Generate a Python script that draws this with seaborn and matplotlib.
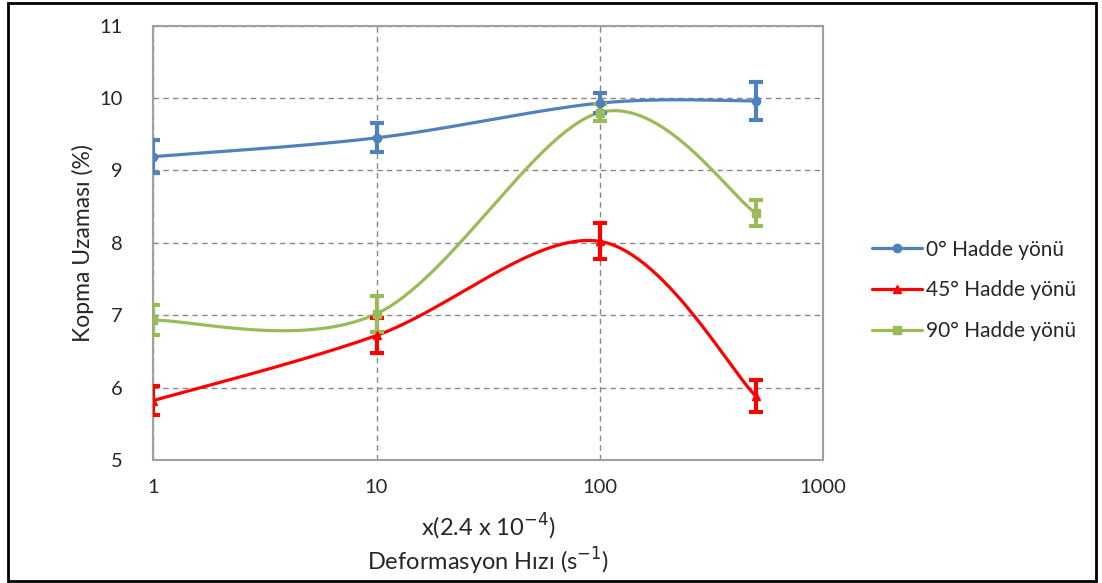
import numpy as np
import pandas as pd
import matplotlib
matplotlib.use("Agg")
import matplotlib.pyplot as plt
import seaborn as sns
from matplotlib.lines import Line2D
from matplotlib.patches import Rectangle

# Veriler
hiz = [1, 10, 100, 500]
seriler = ["0° Hadde yönü", "45° Hadde yönü", "90° Hadde yönü"]
uzama_0 = [9.19, 9.45, 9.93, 9.96]
hata_0 = [0.23, 0.20, 0.14, 0.26]
uzama_45 = [5.82, 6.72, 8.02, 5.88]
hata_45 = [0.20, 0.24, 0.25, 0.22]
uzama_90 = [6.93, 7.02, 9.80, 8.41]
hata_90 = [0.21, 0.25, 0.12, 0.18]

renkler = ["#4F81BD", "#FF0000", "#9BBB59"]
isaretler = ["o", "^", "s"]

df = pd.DataFrame({
    "hiz": hiz * 3,
    "uzama": uzama_0 + uzama_45 + uzama_90,
    "hata": hata_0 + hata_45 + hata_90,
    "seri": [s for s in seriler for _ in hiz],
})


def excel_smooth(x, y, n=60):
    # Excel "düzgünleştirilmiş çizgi" benzeri Catmull-Rom eğrisi (log x uzayında)
    lx = np.log10(np.asarray(x, float))
    y = np.asarray(y, float)
    p = np.column_stack([lx, y])
    p = np.vstack([p[0], p, p[-1]])
    xs, ys = [], []
    for i in range(1, len(p) - 2):
        p0, p1, p2, p3 = p[i - 1], p[i], p[i + 1], p[i + 2]
        c1 = p1 + (p2 - p0) / 6
        c2 = p2 - (p3 - p1) / 6
        t = np.linspace(0, 1, n)[:, None]
        b = ((1 - t) ** 3) * p1 + 3 * ((1 - t) ** 2) * t * c1 + 3 * (1 - t) * t ** 2 * c2 + t ** 3 * p2
        xs.extend(10 ** b[:, 0])
        ys.extend(b[:, 1])
    return xs, ys


sns.set_style("white")
plt.rcParams["font.family"] = ["Lato", "DejaVu Sans"]
yazi = "#262626"

fig = plt.figure(figsize=(11.02, 5.83), dpi=100)
ax = fig.add_axes([0.139, 0.211, 0.608, 0.745])

for seri, renk, isaret in zip(seriler, renkler, isaretler):
    d = df[df["seri"] == seri]
    sx, sy = excel_smooth(d["hiz"], d["uzama"])
    sns.lineplot(x=sx, y=sy, ax=ax, color=renk, linewidth=2.3, sort=False, estimator=None)
    ax.errorbar(d["hiz"], d["uzama"], yerr=d["hata"], fmt=isaret, color=renk,
                markersize=6, elinewidth=3, capsize=5, capthick=3, zorder=4)

ax.set_xscale("log")
ax.set_xlim(1, 1000)
ax.set_ylim(5, 11)
ax.set_xticks([1, 10, 100, 1000])
ax.set_xticklabels(["1", "10", "100", "1000"])
ax.set_yticks(range(5, 12))
ax.minorticks_off()
ax.tick_params(axis="both", labelsize=14.5, colors=yazi, length=0)
ax.tick_params(axis="x", pad=14)
ax.tick_params(axis="y", pad=22)
ax.grid(True, color="#888888", linestyle=(0, (4, 3)), linewidth=1)
for s in ax.spines.values():
    s.set_color("#A0A0A0")
    s.set_linewidth(1.5)

ax.set_xlabel("x(2.4 x 10$^{-4}$)\nDeformasyon Hızı (s$^{-1}$)", fontsize=17,
              linespacing=1.15, labelpad=11, color=yazi)
ax.set_ylabel("Kopma Uzaması (%)", fontsize=16.5, labelpad=4, color=yazi)

tutamaclar = [Line2D([0], [0], color=r, marker=m, markersize=6, linewidth=2.3)
              for r, m in zip(renkler, isaretler)]
fig.legend(tutamaclar, seriler, loc="center left", bbox_to_anchor=(0.774, 0.502),
           frameon=False, fontsize=15, handlelength=2.4, labelspacing=1.0,
           handletextpad=0.2, labelcolor=yazi)

fig.patches.append(Rectangle((0.007, 0.004), 0.988, 0.99, transform=fig.transFigure,
                             fill=False, edgecolor="black", linewidth=2))

fig.savefig("out.png", dpi=100)
